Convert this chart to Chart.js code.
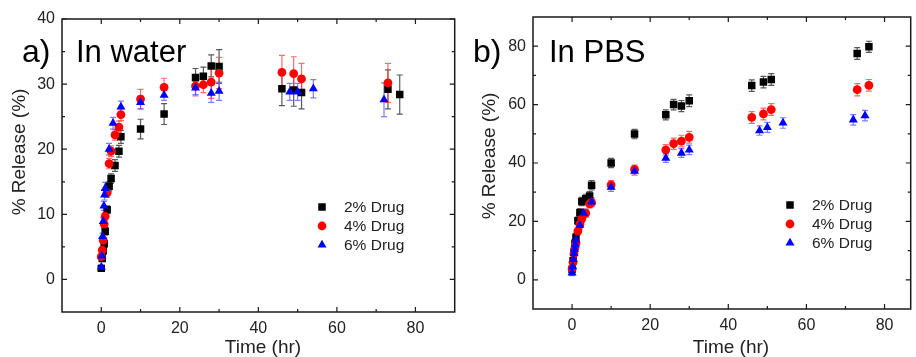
<!DOCTYPE html>
<html lang="en">
<head>
<meta charset="UTF-8">
<title>Drug release in water and PBS</title>
<script src="https://cdn.jsdelivr.net/npm/chart.js"></script>
<style>
  body { margin: 0; background: #fff; width: 916px; height: 357px; overflow: hidden; position: relative; }
  canvas { position: absolute; top: 0; }
</style>
</head>
<body>
<canvas id="waterChart" width="460" height="357" style="left:0px"></canvas>
<canvas id="pbsChart" width="456" height="357" style="left:460px"></canvas>
<script>
// series labels
const seriesLabels = ['2% Drug', '4% Drug', '6% Drug'];

// tick labels
const xTicks = [0, 20, 40, 60, 80];
const waterYTicks = [0, 10, 20, 30, 40];
const pbsYTicks = [0, 20, 40, 60, 80];

// a) in water
const water2Time = [0, 0.25, 0.5, 0.75, 1, 1.5, 2, 2.5, 3.5, 4.5, 5, 10, 16, 24, 26, 28, 30, 46, 49, 51, 73, 76];
const water2Rel  = [1.7, 3.2, 4.4, 5.5, 7.4, 10.7, 14.3, 15.5, 17.5, 19.7, 21.9, 23.1, 25.4, 31.0, 31.2, 32.8, 32.7, 29.3, 29.1, 28.7, 29.2, 28.4];
const water2Err  = [0.3, 0.4, 0.5, 0.5, 0.6, 0.6, 0.7, 0.7, 0.9, 0.9, 1.0, 1.5, 1.6, 1.4, 1.4, 1.7, 2.6, 2.6, 2.5, 2.5, 3.0, 3.0];

const water4Time = [0, 0.25, 0.5, 0.75, 1, 1.5, 2, 2.5, 3.5, 4.5, 5, 10, 16, 24, 26, 28, 30, 46, 49, 51, 73];
const water4Rel  = [3.5, 4.5, 6.0, 8.5, 9.7, 13.3, 17.8, 19.7, 22.2, 23.4, 25.3, 27.7, 29.5, 29.7, 29.9, 30.3, 31.7, 31.8, 31.6, 30.8, 30.2];
const water4Err  = [0.4, 0.5, 0.5, 0.6, 0.6, 0.7, 0.8, 0.8, 0.8, 0.9, 0.9, 1.5, 1.4, 1.5, 1.2, 2.5, 2.4, 2.6, 2.6, 2.4, 3.0];

const water6Time = [0, 0.17, 0.33, 0.5, 0.67, 0.83, 1, 2, 3, 5, 10, 16, 24, 28, 30, 48, 50, 54, 72];
const water6Rel  = [1.9, 3.6, 6.6, 8.9, 11.3, 13.0, 14.0, 20.0, 24.0, 26.5, 27.2, 28.3, 29.4, 28.6, 28.9, 28.8, 28.8, 29.3, 27.6];
const water6Err  = [0.3, 0.5, 0.5, 0.6, 0.7, 0.8, 0.9, 0.9, 0.9, 0.9, 1.0, 0.8, 1.0, 1.4, 1.4, 1.3, 1.3, 1.4, 2.6];

// b) in PBS
const pbs2Time = [0, 0.25, 0.5, 0.75, 1, 1.5, 2, 2.5, 3.5, 4.5, 5, 10, 16, 24, 26, 28, 30, 46, 49, 51, 73, 76];
const pbs2Rel  = [3.5, 6.5, 9.5, 12.5, 14.6, 20.2, 23.0, 26.8, 27.8, 28.7, 32.4, 40.0, 49.9, 56.5, 60.0, 59.5, 61.3, 66.5, 67.7, 68.6, 77.5, 79.8];
const pbs2Err  = [1.0, 1.0, 1.2, 1.2, 1.3, 1.3, 1.4, 1.4, 1.5, 1.5, 1.6, 1.6, 1.6, 1.7, 1.8, 1.9, 2.0, 2.0, 2.0, 2.0, 2.0, 1.9];

const pbs4Time = [0, 0.25, 0.5, 0.75, 1, 1.5, 2, 2.5, 3.5, 4.5, 5, 10, 16, 24, 26, 28, 30, 46, 49, 51, 73, 76];
const pbs4Rel  = [3.8, 6.0, 9.0, 11.0, 12.5, 16.7, 19.0, 20.9, 22.8, 26.0, 26.5, 32.5, 37.8, 44.5, 46.6, 47.5, 48.8, 55.6, 56.8, 58.3, 65.1, 66.6];
const pbs4Err  = [1.0, 1.0, 1.1, 1.1, 1.2, 1.2, 1.3, 1.3, 1.4, 1.4, 1.5, 1.5, 1.5, 1.8, 1.9, 2.0, 2.0, 2.0, 2.0, 2.0, 2.1, 2.0];

const pbs6Time = [0, 0.17, 0.33, 0.5, 0.67, 0.83, 1, 2, 3, 5, 10, 16, 24, 28, 30, 48, 50, 54, 72, 75];
const pbs6Rel  = [2.4, 4.5, 7.0, 9.0, 10.5, 12.0, 13.7, 18.7, 22.8, 26.7, 31.7, 37.2, 41.7, 43.4, 44.5, 51.1, 52.2, 53.7, 54.8, 56.2];
const pbs6Err  = [1.0, 1.0, 1.0, 1.1, 1.1, 1.2, 1.2, 1.3, 1.3, 1.4, 1.4, 1.4, 1.5, 1.5, 1.6, 1.6, 1.7, 1.8, 1.8, 1.8];

const FONT = '"Liberation Sans", Arial, sans-serif';
const styles = [
  { pointStyle: 'rect', pointRadius: 5.3, color: '#000000', errColor: 'rgba(60,60,60,0.85)', order: 2 },
  { pointStyle: 'circle', pointRadius: 4.4, color: '#ff0000', errColor: 'rgba(255,70,70,0.8)', order: 1 },
  { pointStyle: 'triangle', pointRadius: 5.2, color: '#0000ff', errColor: 'rgba(80,80,255,0.75)', order: 0 }
];

function makeDataset(i, times, rel, err) {
  const s = styles[i];
  return {
    label: seriesLabels[i],
    data: times.map((t, k) => ({ x: t, y: rel[k] })),
    err: err,
    errColor: s.errColor,
    pointStyle: s.pointStyle,
    pointRadius: s.pointRadius,
    pointHoverRadius: s.pointRadius,
    backgroundColor: s.color,
    borderColor: s.color,
    borderWidth: 0,
    showLine: false,
    order: s.order
  };
}

function minorValues(ticks, min, max) {
  const d = ticks[1] - ticks[0];
  const out = [];
  for (let v = ticks[0] - d / 2; v > min + 1e-6; v -= d) out.push(v);
  for (let v = ticks[0] + d / 2; v < max - 1e-6; v += d) out.push(v);
  return out;
}

// frame, inward ticks, error bars, labels and legend drawn in Origin style
const originStyle = {
  id: 'originStyle',
  beforeDatasetsDraw(chart) {
    const { ctx, scales: { x, y } } = chart;
    ctx.save();
    chart.data.datasets.forEach(ds => {
      ctx.strokeStyle = ds.errColor;
      ctx.lineWidth = 1.2;
      ds.data.forEach((p, k) => {
        const px = x.getPixelForValue(p.x);
        const top = y.getPixelForValue(p.y + ds.err[k]);
        const bot = y.getPixelForValue(p.y - ds.err[k]);
        ctx.beginPath();
        ctx.moveTo(px, top); ctx.lineTo(px, bot);
        ctx.moveTo(px - 3, top); ctx.lineTo(px + 3, top);
        ctx.moveTo(px - 3, bot); ctx.lineTo(px + 3, bot);
        ctx.stroke();
      });
    });
    ctx.restore();
  },
  afterDraw(chart, args, o) {
    const { ctx, chartArea: a, scales: { x, y } } = chart;
    ctx.save();
    ctx.strokeStyle = '#1a1a1a';
    ctx.lineWidth = 1.5;
    ctx.strokeRect(a.left, a.top, a.right - a.left, a.bottom - a.top);

    ctx.lineWidth = 1.2;
    ctx.beginPath();
    const xt = x.ticks.map(t => t.value);
    const yt = y.ticks.map(t => t.value);
    const tickX = (v, len) => {
      const px = x.getPixelForValue(v);
      ctx.moveTo(px, a.bottom); ctx.lineTo(px, a.bottom - len);
      ctx.moveTo(px, a.top); ctx.lineTo(px, a.top + len);
    };
    const tickY = (v, len) => {
      const py = y.getPixelForValue(v);
      ctx.moveTo(a.left, py); ctx.lineTo(a.left + len, py);
      ctx.moveTo(a.right, py); ctx.lineTo(a.right - len, py);
    };
    xt.forEach(v => tickX(v, 5));
    minorValues(xt, x.min, x.max).forEach(v => tickX(v, 3));
    yt.forEach(v => tickY(v, 5));
    minorValues(yt, y.min, y.max).forEach(v => tickY(v, 3));
    ctx.stroke();

    // panel tag and title
    ctx.fillStyle = '#000';
    ctx.textBaseline = 'alphabetic';
    ctx.textAlign = 'left';
    ctx.font = '32px ' + FONT;
    ctx.fillText(o.tag, o.tagX, o.textY);
    ctx.font = '31px ' + FONT;
    ctx.fillText(o.title, o.titleX, o.textY);

    // axis titles
    ctx.fillStyle = '#222';
    ctx.font = '19px ' + FONT;
    ctx.textAlign = 'center';
    ctx.textBaseline = 'middle';
    ctx.fillText('Time (hr)', o.xTitle[0], o.xTitle[1]);
    ctx.save();
    ctx.translate(o.yTitle[0], o.yTitle[1]);
    ctx.rotate(-Math.PI / 2);
    ctx.fillText('% Release (%)', 0, 0);
    ctx.restore();

    // legend
    ctx.font = '15.5px ' + FONT;
    ctx.textAlign = 'left';
    chart.data.datasets.forEach((ds, i) => {
      const ly = o.legend.y + i * o.legend.gap;
      ctx.fillStyle = ds.backgroundColor;
      Chart.helpers.drawPoint(ctx, { pointStyle: ds.pointStyle, radius: ds.pointRadius, rotation: 0 }, o.legend.x, ly);
      ctx.fillStyle = '#222';
      ctx.fillText(ds.label, o.legend.textX, ly + 1);
    });
    ctx.restore();
  }
};

function makeChart(id, datasets, cfg) {
  const canvas = document.getElementById(id);
  const W = canvas.width, H = canvas.height;
  return new Chart(canvas, {
    type: 'scatter',
    data: { datasets: datasets },
    options: {
      responsive: false,
      animation: false,
      events: [],
      layout: { padding: { top: cfg.area.top, right: W - cfg.area.right, left: 0, bottom: 0 } },
      scales: {
        x: {
          type: 'linear',
          min: -10,
          max: cfg.xMax,
          afterBuildTicks: s => { s.ticks = xTicks.map(v => ({ value: v })); },
          afterFit: s => { s.height = H - cfg.area.bottom; },
          grid: { display: false, drawTicks: false },
          border: { display: false },
          ticks: { padding: 7, color: '#222', font: { family: FONT, size: 16 }, maxRotation: 0 }
        },
        y: {
          type: 'linear',
          min: cfg.yMin,
          max: cfg.yMax,
          afterBuildTicks: s => { s.ticks = cfg.yTicks.map(v => ({ value: v })); },
          afterFit: s => { s.width = cfg.area.left; },
          grid: { display: false, drawTicks: false },
          border: { display: false },
          ticks: { padding: 7, color: '#222', font: { family: FONT, size: 16 } }
        }
      },
      plugins: {
        legend: { display: false },
        tooltip: { enabled: false },
        originStyle: cfg.deco
      }
    },
    plugins: [originStyle]
  });
}

makeChart('waterChart', [
  makeDataset(0, water2Time, water2Rel, water2Err),
  makeDataset(1, water4Time, water4Rel, water4Err),
  makeDataset(2, water6Time, water6Rel, water6Err)
], {
  area: { left: 62, right: 457, top: 19, bottom: 312 },
  xMax: 90, yMin: -5, yMax: 40, yTicks: waterYTicks,
  deco: {
    tag: 'a)', title: 'In water', tagX: 22, titleX: 76, textY: 62,
    xTitle: [263, 348], yTitle: [20, 152],
    legend: { x: 322, y: 207, gap: 19, textX: 344 }
  }
});

makeChart('pbsChart', [
  makeDataset(0, pbs2Time, pbs2Rel, pbs2Err),
  makeDataset(1, pbs4Time, pbs4Rel, pbs4Err),
  makeDataset(2, pbs6Time, pbs6Rel, pbs6Err)
], {
  area: { left: 73, right: 456, top: 17, bottom: 309 },
  xMax: 86.7, yMin: -10, yMax: 90, yTicks: pbsYTicks,
  deco: {
    tag: 'b)', title: 'In PBS', tagX: 13, titleX: 89, textY: 62,
    xTitle: [271, 348], yTitle: [30, 156],
    legend: { x: 330, y: 205, gap: 19, textX: 352 }
  }
});
</script>
</body>
</html>
